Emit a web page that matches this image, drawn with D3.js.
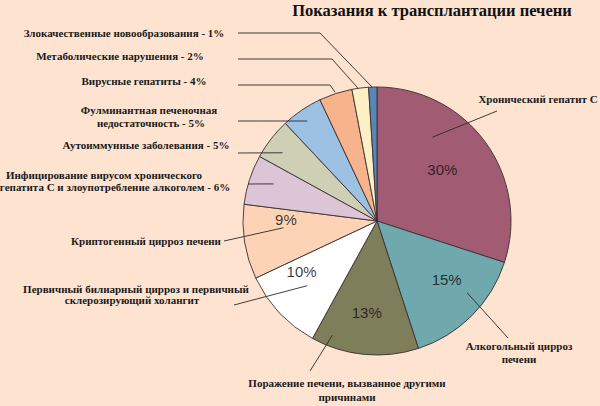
<!DOCTYPE html>
<html>
<head>
<meta charset="utf-8">
<script src="https://cdn.jsdelivr.net/npm/d3@7"></script>
<style>
  html, body { margin: 0; padding: 0; background: #fde3d0; }
  svg { display: block; }
</style>
</head>
<body>
<div class="chart"></div>
<script>
// chart data, clockwise from 12 o'clock
var categories = ["hepC", "alcohol", "other", "pbc", "crypto", "hepCalcohol",
                  "autoimmune", "fulminant", "viral", "metabolic", "malignant"];
var values = [30, 15, 13, 10, 9, 6, 5, 5, 4, 2, 1];
var labelLines = [
  ["Хронический гепатит С"],
  ["Алкогольный цирроз", "печени"],
  ["Поражение печени, вызванное другими", "причинами"],
  ["Первичный билиарный цирроз и первичный", "склерозирующий холангит"],
  ["Криптогенный цирроз печени"],
  ["Инфицирование вирусом хронического", "гепатита С и злоупотребление алкоголем - 6%"],
  ["Аутоиммунные заболевания - 5%"],
  ["Фулминантная печеночная", "недостаточность - 5%"],
  ["Вирусные гепатиты - 4%"],
  ["Метаболические нарушения - 2%"],
  ["Злокачественные новообразования  - 1%"]
];
// slices that show their percent inside the pie
var insidePct = ["hepC", "alcohol", "other", "pbc", "crypto"];
var title = "Показания к трансплантации печени";

// styles
var serif = "'Liberation Serif', 'Times New Roman', 'DejaVu Serif', serif";
var sliceColors = ["#a15b73", "#6fa8ad", "#7e7e5b", "#ffffff", "#fdd3b5", "#dcc5d7",
                   "#cfcfb6", "#9cc1e2", "#f7b38b", "#fdf0c5", "#5a86b6"];

// label layout: line centres, leader start (+ elbow), where the leader hits the slice
// (t = fraction across the slice angle, k = fraction of radius)
var labelLayout = {
  hepC:        { lines: [[538, 99]], leader: [[497, 111]], t: 0.31, k: 0.75, pt: 0.48, pk: 0.62 },
  alcohol:     { lines: [[519, 346], [519, 359]], leader: [[508, 338]], t: 0.38, k: 0.86, pt: 0.41, pk: 0.68 },
  other:       { lines: [[347, 383], [347, 397]], leader: [[310, 371]], t: 0.84, k: 0.915, pt: 0.52, pk: 0.69 },
  pbc:         { lines: [[136, 289], [132, 300]], leader: [[234, 305]], t: 0.51, k: 0.71, pt: 0.75, pk: 0.68 },
  crypto:      { lines: [[146, 241]], leader: [[224, 241]], t: 0.65, k: 0.70, pt: 0.80, pk: 0.68 },
  hepCalcohol: { lines: [[104, 175], [115, 187]], leader: [[248, 184]], t: 0.58, k: 0.82 },
  autoimmune:  { lines: [[146, 145]], leader: [[238, 153]], t: 0.39, k: 0.87 },
  fulminant:   { lines: [[149, 110], [151, 123]], leader: [[238, 121]], t: 0.46, k: 0.91 },
  viral:       { lines: [[144, 81]], leader: [[238, 85], [330, 85]], t: 0.5, k: 1.01 },
  metabolic:   { lines: [[120, 56]], leader: [[238, 59], [332, 59]], t: 0.375, k: 1.0 },
  malignant:   { lines: [[124, 33]], leader: [[238, 33], [320, 33]], t: 0.42, k: 1.0 }
};

function loadPie() {

  var width = 600,
      height = 406,
      cx = 377,
      cy = 221,
      radius = 134;

  var data = categories.map(function(c, i) {
    return { category: c, value: values[i], lines: labelLines[i], color: sliceColors[i] };
  });

  var svg = d3.select(".chart")
    .append("svg")
      .attr("width", width)
      .attr("height", height);

  svg.append("rect")
    .attr("width", width)
    .attr("height", height)
    .attr("fill", "#fde3d0");

  svg.append("text")
    .attr("x", 432)
    .attr("y", 10)
    .attr("dy", "0.35em")
    .attr("text-anchor", "middle")
    .style("font-family", serif)
    .style("font-weight", "bold")
    .style("font-size", "16.5px")
    .style("fill", "#111")
    .text(title);

  var pie = d3.pie()
      .sort(null)
      .value(function(d) { return d.value; });

  var arc = d3.arc()
      .outerRadius(radius)
      .innerRadius(0);

  var arcs = pie(data);

  // point inside a slice, t across the angle and k of the radius
  function slicePoint(d, t, k) {
    var a = d.startAngle + t * (d.endAngle - d.startAngle);
    return [cx + Math.sin(a) * radius * k, cy - Math.cos(a) * radius * k];
  }

  var pie_g = svg.append("g")
      .attr("transform", "translate(" + cx + "," + cy + ")");

  pie_g.selectAll(".slice")
    .data(arcs)
    .enter()
    .append("path")
      .attr("class", "slice")
      .attr("d", arc)
      .attr("fill", function(d) { return d.data.color; })
      .attr("stroke", "#3a3030")
      .attr("stroke-width", 0.9)
      .attr("stroke-linejoin", "round");

  // percentages written inside the larger slices
  svg.selectAll(".pct-text")
    .data(arcs.filter(function(d) { return insidePct.indexOf(d.data.category) >= 0; }))
    .enter()
    .append("text")
      .attr("class", "pct-text")
      .attr("transform", function(d) {
        var lay = labelLayout[d.data.category];
        return "translate(" + slicePoint(d, lay.pt, lay.pk) + ")";
      })
      .attr("dy", "0.35em")
      .attr("text-anchor", "middle")
      .style("font-family", "'Liberation Sans', Arial, sans-serif")
      .style("font-size", "15px")
      .style("fill", "#1c1418")
      .style("fill-opacity", 0.85)
      .text(function(d) { return d.data.value + "%"; });

  // leader lines
  var line = d3.line();
  svg.selectAll(".leader")
    .data(arcs)
    .enter()
    .append("path")
      .attr("class", "leader")
      .attr("fill", "none")
      .attr("stroke", "#2a2a2a")
      .attr("stroke-width", 0.9)
      .attr("d", function(d) {
        var lay = labelLayout[d.data.category];
        return line(lay.leader.concat([slicePoint(d, lay.t, lay.k)]));
      });

  // category labels
  var labels = svg.selectAll(".slice-label")
    .data(arcs)
    .enter()
    .append("g")
      .attr("class", "slice-label");

  labels.each(function(d) {
    var lay = labelLayout[d.data.category];
    d3.select(this).selectAll("text")
      .data(d.data.lines)
      .enter()
      .append("text")
        .attr("x", function(s, i) { return lay.lines[i][0]; })
        .attr("y", function(s, i) { return lay.lines[i][1]; })
        .attr("dy", "0.35em")
        .attr("text-anchor", "middle")
        .style("font-family", serif)
        .style("font-weight", "bold")
        .style("font-size", "11px")
        .style("fill", "#1a1a1a")
        .text(function(s) { return s; });
  });
}

loadPie();
</script>
</body>
</html>
